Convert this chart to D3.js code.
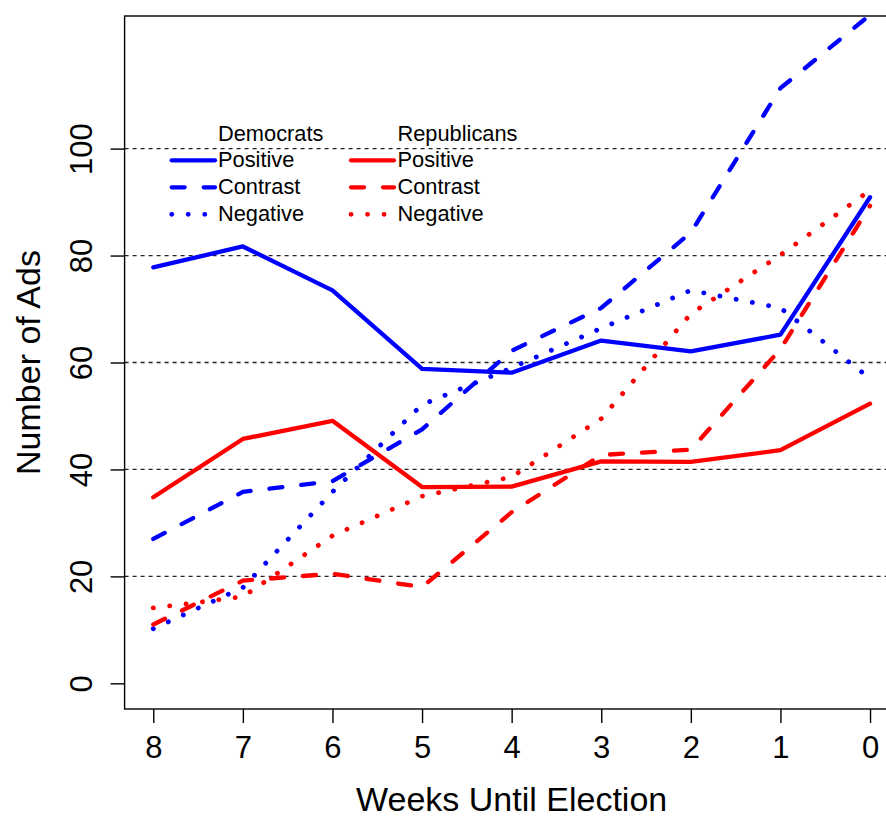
<!DOCTYPE html>
<html>
<head>
<meta charset="utf-8">
<script src="https://cdn.jsdelivr.net/npm/d3@7"></script>
<style>
  html, body { margin: 0; padding: 0; background: #fff; }
  svg { display: block; font-family: "Liberation Sans", Arial, Helvetica, sans-serif; }
</style>
</head>
<body>
<svg id="chart" width="886" height="819"></svg>
<script>
// ---- data ----
const weeks = [8, 7, 6, 5, 4, 3, 2, 1, 0];
const demPositive = [77.8, 81.7, 73.5, 58.8, 58.1, 64.1, 62.1, 65.2, 90.9];
const demContrast = [27.0, 35.8, 37.8, 47.5, 62.2, 70.2, 84.3, 111.3, 125.0];
const demNegative = [10.2, 17.9, 35.8, 52.1, 59.0, 66.4, 73.5, 70.2, 57.0];
const repPositive = [34.8, 45.7, 49.1, 36.7, 36.8, 41.5, 41.4, 43.6, 52.3];
const repContrast = [11.0, 19.2, 20.5, 18.0, 32.0, 42.7, 43.7, 62.5, 89.3];
const repNegative = [14.1, 16.2, 27.6, 35.0, 38.6, 49.5, 69.1, 80.1, 92.2];
const yTicks = [0, 20, 40, 60, 80, 100];
const gridValues = [20, 40, 60, 80, 100];
const xTicks = [8, 7, 6, 5, 4, 3, 2, 1, 0];
const legendTypes = ["Positive", "Contrast", "Negative"];

// ---- layout ----
const svg = d3.select("#chart");
const pLeft = 124.6, pRight = 898.7, pTop = 16, pBottom = 709;
const x = d3.scaleLinear().domain([8.32, -0.32]).range([pLeft, pRight]);
const y = d3.scaleLinear().domain([-4.8, 124.8]).range([pBottom, pTop]);

const BLUE = "#0000ff", RED = "#ff0000";
const dashes = { Positive: null, Contrast: "13,19", Negative: "0.1,16.4" };

svg.append("defs").append("clipPath").attr("id", "plotclip")
  .append("rect").attr("x", pLeft).attr("y", pTop)
  .attr("width", pRight - pLeft).attr("height", pBottom - pTop);

// grid lines
svg.append("g").selectAll("line").data(gridValues).join("line")
  .attr("x1", pLeft).attr("x2", pRight)
  .attr("y1", d => y(d)).attr("y2", d => y(d))
  .attr("stroke", "#222").attr("stroke-width", 1.3)
  .attr("stroke-dasharray", "4,4");

// series
const series = [
  { vals: demPositive, color: BLUE, type: "Positive" },
  { vals: demContrast, color: BLUE, type: "Contrast" },
  { vals: demNegative, color: BLUE, type: "Negative" },
  { vals: repPositive, color: RED, type: "Positive" },
  { vals: repContrast, color: RED, type: "Contrast" },
  { vals: repNegative, color: RED, type: "Negative" }
];
const line = d3.line().x((d, i) => x(weeks[i])).y(d => y(d));
const gLines = svg.append("g").attr("clip-path", "url(#plotclip)");
series.forEach(s => {
  gLines.append("path").datum(s.vals)
    .attr("d", line)
    .attr("fill", "none")
    .attr("stroke", s.color)
    .attr("stroke-width", s.type === "Negative" ? 4.8 : 4.3)
    .attr("stroke-linecap", "round")
    .attr("stroke-linejoin", "round")
    .attr("stroke-dasharray", dashes[s.type]);
});

// frame
svg.append("rect").attr("x", pLeft).attr("y", pTop)
  .attr("width", pRight - pLeft).attr("height", pBottom - pTop)
  .attr("fill", "none").attr("stroke", "#000").attr("stroke-width", 1.4);

// y axis
const yAxis = svg.append("g").attr("transform", `translate(${pLeft},0)`)
  .call(d3.axisLeft(y).tickValues(yTicks).tickSize(14).tickFormat(d3.format("d")));
yAxis.select(".domain").remove();
yAxis.selectAll(".tick line").attr("stroke", "#000").attr("stroke-width", 1.4);
yAxis.selectAll(".tick text")
  .attr("transform", "rotate(-90)")
  .attr("x", 0).attr("y", -32.5).attr("dy", 0)
  .attr("text-anchor", "middle")
  .attr("font-size", 31).attr("fill", "#000")
  .style("font-family", "'Liberation Sans', Arial, sans-serif");

// x axis
const xAxis = svg.append("g").attr("transform", `translate(0,${pBottom})`)
  .call(d3.axisBottom(x).tickValues(xTicks).tickSize(14).tickFormat(d3.format("d")));
xAxis.select(".domain").remove();
xAxis.selectAll(".tick line").attr("stroke", "#000").attr("stroke-width", 1.4);
xAxis.selectAll(".tick text")
  .attr("y", 49).attr("dy", 0)
  .attr("font-size", 31).attr("fill", "#000")
  .style("font-family", "'Liberation Sans', Arial, sans-serif");

// axis titles
svg.append("text").attr("x", (pLeft + pRight) / 2).attr("y", 811)
  .attr("text-anchor", "middle").attr("font-size", 34).text("Weeks Until Election");
svg.append("text")
  .attr("transform", `translate(40,${(pTop + pBottom) / 2}) rotate(-90)`)
  .attr("text-anchor", "middle").attr("font-size", 34).text("Number of Ads");

// legend
const legend = svg.append("g");
const legendCols = [
  { title: "Democrats", color: BLUE, x0: 171.7, x1: 215, tx: 218 },
  { title: "Republicans", color: RED, x0: 351, x1: 394, tx: 397.5 }
];
const baselines = [167.3, 194.3, 221.3];
legendCols.forEach(c => {
  legend.append("text").attr("x", c.tx).attr("y", 140.5)
    .attr("font-size", 21.8).text(c.title);
  legendTypes.forEach((t, i) => {
    legend.append("line")
      .attr("x1", c.x0).attr("x2", c.x1)
      .attr("y1", baselines[i] - 7).attr("y2", baselines[i] - 7)
      .attr("stroke", c.color)
      .attr("stroke-width", t === "Negative" ? 4.8 : 4.3)
      .attr("stroke-linecap", "round")
      .attr("stroke-dasharray", dashes[t]);
    legend.append("text").attr("x", c.tx).attr("y", baselines[i])
      .attr("font-size", 21.8).text(t);
  });
});
</script>
</body>
</html>
